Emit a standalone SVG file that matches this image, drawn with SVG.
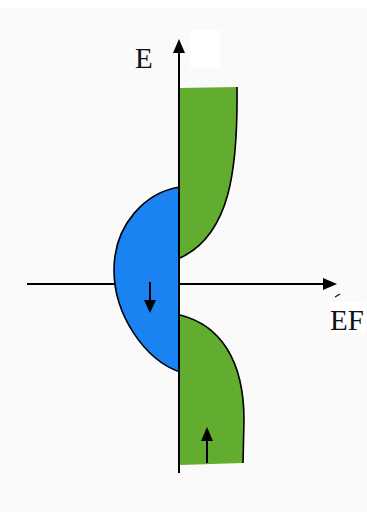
<svg xmlns="http://www.w3.org/2000/svg" width="367" height="512" viewBox="0 0 367 512">
<defs>
<style>
.lbl{fill:#111}
.edge{fill:none;stroke:#000;stroke-width:1.6}
.axis{stroke:#000;stroke-width:2;fill:none}
</style>
</defs>
<rect width="367" height="512" fill="#fafafa"/>
<rect x="0" y="0" width="367" height="8" fill="#fff"/>
<rect x="190" y="30" width="30" height="38" fill="#fff"/>
<rect x="330" y="302" width="36" height="32" fill="#fff"/>
<g id="connectors">
<line x1="27" y1="284" x2="325" y2="284" class="axis"/>
<path d="M323,278 L337,284 L323,290 Z" fill="#000"/>
</g>
<g id="band-top">
<path d="M180,88 L237,87 C238,170 230,235 180,258 Z" fill="#62ad2f"/>
<path d="M237,87 C238,170 230,235 180,258" class="edge"/>
</g>
<g id="band-left">
<path d="M180,187 C146,192 114,224 114,270 C114,315 145,360 180,372 Z" fill="#1a83f1"/>
<path d="M180,187 C146,192 114,224 114,270 C114,315 145,360 180,372" class="edge"/>
</g>
<g id="band-bottom">
<path d="M180,315 C220,325 244,360 244,420 L243,463 L180,465 Z" fill="#62ad2f"/>
<path d="M180,315 C220,325 244,360 244,420 L243,463" class="edge"/>
</g>
<g id="arrows">
<line x1="179" y1="473" x2="179" y2="52" class="axis"/>
<path d="M173,53 L179,39 L185,53 Z" fill="#000"/>
<line x1="150" y1="282" x2="150" y2="301" class="axis"/>
<path d="M144,300 L150,313 L156,300 Z" fill="#000"/>
<line x1="207" y1="463" x2="207" y2="439" class="axis"/>
<path d="M201,441 L207,427 L213,441 Z" fill="#000"/>
</g>
<g id="labels">
<text class="lbl" x="135" y="68" font-family="Liberation Serif, serif" font-size="29">E</text>
<text class="lbl" x="330" y="330" font-family="Liberation Serif, serif" font-size="29">EF</text>
<path d="M335,297 L340,294" stroke="#111" stroke-width="1.2"/>
</g>
</svg>
